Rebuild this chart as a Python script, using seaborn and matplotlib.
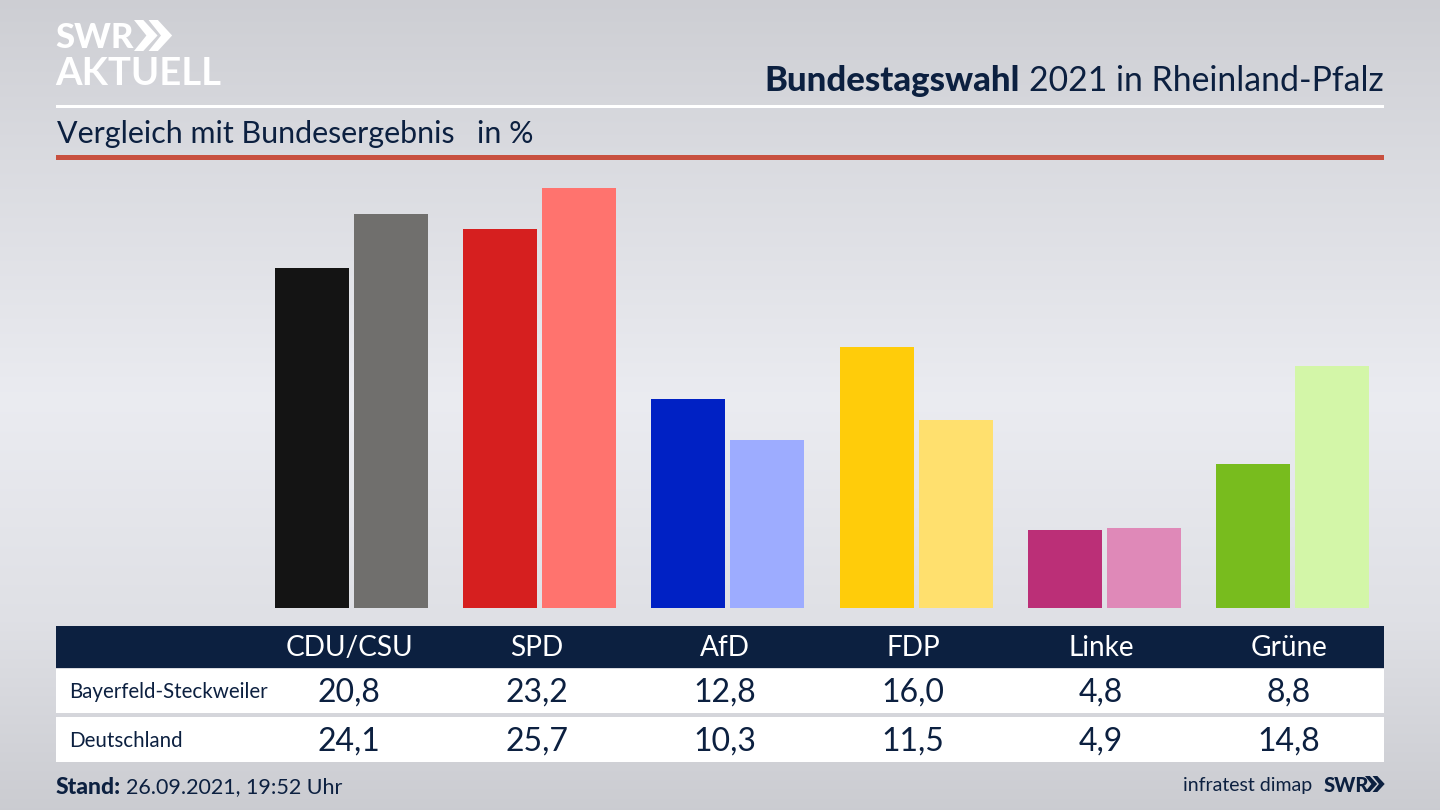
#!/usr/bin/env python3
"""Bundestagswahl 2021: Bayerfeld-Steckweiler vs Deutschland."""

import numpy as np
import pandas as pd
import matplotlib
matplotlib.use("Agg")
import matplotlib.pyplot as plt
from matplotlib.patches import Polygon, Rectangle
import seaborn as sns

PARTIES = ["CDU/CSU", "SPD", "AfD", "FDP", "Linke", "Grüne"]
LOCAL_NAME = "Bayerfeld-Steckweiler"
NATIONAL_NAME = "Deutschland"
LOCAL_VALUES = [20.8, 23.2, 12.8, 16.0, 4.8, 8.8]
NATIONAL_VALUES = [24.1, 25.7, 10.3, 11.5, 4.9, 14.8]

LOCAL_COLORS = ["#141414", "#d61f1f", "#0021c4", "#ffcc0a", "#bb2f77", "#78bc1e"]
NATIONAL_COLORS = ["#706f6d", "#ff736e", "#9dacff", "#ffe06e", "#df89b8", "#d3f6a8"]

NAVY = "#0c2040"
FONT = "Lato"
W, H = 1440, 810

sns.set_theme(style="white")
plt.rcParams["font.family"] = [FONT, "DejaVu Sans"]


def fmt(value):
    return f"{value:.1f}".replace(".", ",")


def draw_chevrons(ax, x, y, size, color):
    # double arrow of the SWR logo
    for dx in (0, size * 0.47):
        pts = [(x + dx, y), (x + dx + size * 0.3, y), (x + dx + size * 0.76, y + size / 2),
               (x + dx + size * 0.3, y + size), (x + dx, y + size), (x + dx + size * 0.4, y + size / 2)]
        ax.add_patch(Polygon(pts, closed=True, color=color, lw=0))


fig = plt.figure(figsize=(14.4, 8.1), dpi=100)

# background and furniture, in pixel coordinates
bg = fig.add_axes([0, 0, 1, 1], zorder=0)
bg.set_xlim(0, W)
bg.set_ylim(H, 0)
bg.axis("off")
grad = np.interp(np.arange(H), [0, 160, 400, 620, 810], [0.805, 0.855, 0.92, 0.875, 0.795])
rgb = np.stack([grad, grad + 0.004, grad + 0.024], axis=1)[:, None, :]
bg.imshow(np.clip(rgb, 0, 1), extent=[0, W, H, 0], aspect="auto", zorder=0)

bg.add_patch(Rectangle((56, 105), 1328, 2.5, color="white", lw=0))
bg.add_patch(Rectangle((56, 155), 1328, 5, color="#c8503f", lw=0))

bg.text(55, 38, "SWR", color="white", fontsize=25, fontweight="black", va="center", ha="left")
draw_chevrons(bg, 134, 20, 31, "white")
bg.text(55, 74, "AKTUELL", color="white", fontsize=27.5, fontweight="bold", va="center", ha="left")

bg.text(1384, 81, "2021 in Rheinland-Pfalz", color=NAVY, fontsize=24.3, va="center", ha="right")
bg.text(1020, 81, "Bundestagswahl", color=NAVY, fontsize=25, fontweight="black", va="center", ha="right")
bg.text(57, 134, "Vergleich mit Bundesergebnis", color=NAVY, fontsize=21.9, va="center", ha="left")
bg.text(477, 134, "in %", color=NAVY, fontsize=21.9, va="center", ha="left")

# table under the bars
bg.add_patch(Rectangle((56, 626), 1328, 42, color=NAVY, lw=0))
bg.add_patch(Rectangle((56, 669), 1328, 44, color="white", lw=0))
bg.add_patch(Rectangle((56, 717), 1328, 45, color="white", lw=0))
bg.text(69.5, 692, LOCAL_NAME, color=NAVY, fontsize=14.8, va="center", ha="left")
bg.text(69.5, 741, NATIONAL_NAME, color=NAVY, fontsize=14.8, va="center", ha="left")
for i, party in enumerate(PARTIES):
    x = 349 + 188 * i
    bg.text(x, 648, party, color="white", fontsize=20.2, va="center", ha="center")
    bg.text(x, 693, fmt(LOCAL_VALUES[i]), color=NAVY, fontsize=23, va="center", ha="center")
    bg.text(x, 742, fmt(NATIONAL_VALUES[i]), color=NAVY, fontsize=23, va="center", ha="center")

# footer
bg.text(56, 787, "Stand:", color=NAVY, fontsize=16.5, fontweight="black", va="center", ha="left")
bg.text(126, 787, "26.09.2021, 19:52 Uhr", color=NAVY, fontsize=15.5, va="center", ha="left")
bg.text(1312, 785, "infratest dimap", color=NAVY, fontsize=14, va="center", ha="right")
bg.text(1324, 785, "SWR", color=NAVY, fontsize=14.5, fontweight="black", va="center", ha="left")
draw_chevrons(bg, 1365, 776, 16, NAVY)

# bars: one category step is 188.2 px, baseline at y=608, 16.33 px per percent
ax_left, ax_right, ax_top, ax_bottom = 257.4, 1386.6, 160, 608
ax = fig.add_axes([ax_left / W, 1 - ax_bottom / H, (ax_right - ax_left) / W, (ax_bottom - ax_top) / H], zorder=1)
ax.patch.set_alpha(0)

df = pd.DataFrame({
    "party": PARTIES * 2,
    "region": [LOCAL_NAME] * 6 + [NATIONAL_NAME] * 6,
    "value": LOCAL_VALUES + NATIONAL_VALUES,
})
sns.barplot(data=df, x="party", y="value", hue="region", order=PARTIES, width=0.84, gap=0.0633,
            legend=False, ax=ax, saturation=1)
for container, colors in zip(ax.containers, [LOCAL_COLORS, NATIONAL_COLORS]):
    for bar, color in zip(container, colors):
        bar.set_facecolor(color)
        bar.set_edgecolor("none")

ax.set_xlim(-0.5, 5.5)
ax.set_ylim(0, (ax_bottom - ax_top) / 16.33)
ax.axis("off")

fig.savefig("out.png", dpi=100)
plt.close(fig)
